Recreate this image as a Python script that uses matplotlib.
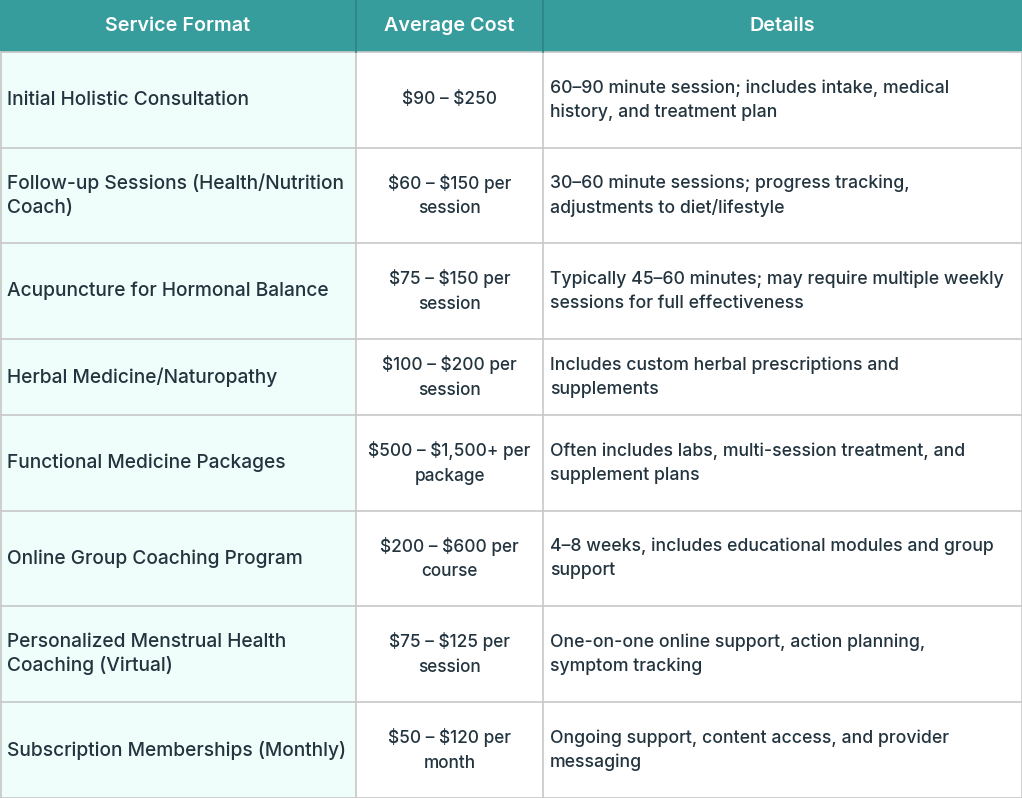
import matplotlib
matplotlib.use('Agg')
import matplotlib.pyplot as plt
from matplotlib.patches import Rectangle

plt.rcParams['font.family'] = ['Inter', 'DejaVu Sans']
plt.rcParams['text.parse_math'] = False

# Table content
headers = ["Service Format", "Average Cost", "Details"]

services = [
    "Initial Holistic Consultation",
    "Follow-up Sessions (Health/Nutrition\nCoach)",
    "Acupuncture for Hormonal Balance",
    "Herbal Medicine/Naturopathy",
    "Functional Medicine Packages",
    "Online Group Coaching Program",
    "Personalized Menstrual Health\nCoaching (Virtual)",
    "Subscription Memberships (Monthly)",
]

costs = [
    "$90 – $250",
    "$60 – $150 per\nsession",
    "$75 – $150 per\nsession",
    "$100 – $200 per\nsession",
    "$500 – $1,500+ per\npackage",
    "$200 – $600 per\ncourse",
    "$75 – $125 per\nsession",
    "$50 – $120 per\nmonth",
]

details = [
    "60–90 minute session; includes intake, medical\nhistory, and treatment plan",
    "30–60 minute sessions; progress tracking,\nadjustments to diet/lifestyle",
    "Typically 45–60 minutes; may require multiple weekly\nsessions for full effectiveness",
    "Includes custom herbal prescriptions and\nsupplements",
    "Often includes labs, multi-session treatment, and\nsupplement plans",
    "4–8 weeks, includes educational modules and group\nsupport",
    "One-on-one online support, action planning,\nsymptom tracking",
    "Ongoing support, content access, and provider\nmessaging",
]

# layout (pixels)
W, H = 1022, 798
col_x = [0, 356, 543, 1022]
header_h = 52
row_h = [96, 95, 96, 76, 96, 95, 96, 96]

header_color = "#369c9c"
first_col_bg = "#effdfb"
text_color = "#23343f"
line_color = "#c8c8c8"
col_fs = [13.8, 12.4, 12.7]
fw = 'medium'


def lsp(fs):
    # keep the line pitch at ~24 px whatever the size
    return 1.45 * 13.3 / fs


fig = plt.figure(figsize=(W / 100, H / 100), dpi=100)
ax = fig.add_axes([0, 0, 1, 1])
ax.set_xlim(0, W)
ax.set_ylim(H, 0)
ax.axis('off')

# header
ax.add_patch(Rectangle((0, 0), W, header_h, facecolor=header_color, edgecolor='none'))
for i, h in enumerate(headers):
    cx = (col_x[i] + col_x[i + 1]) / 2
    ax.text(cx, header_h / 2, h, color='white', fontsize=14.2, fontweight='semibold',
            ha='center', va='center')

# rows
y = header_h
row_tops = []
for k in range(len(services)):
    row_tops.append(y)
    rh = row_h[k]
    ax.add_patch(Rectangle((0, y), col_x[1], rh, facecolor=first_col_bg, edgecolor='none'))
    cy = y + rh / 2
    ax.text(col_x[0] + 7, cy, services[k], color=text_color, fontsize=col_fs[0],
            fontweight=fw, ha='left', va='center', linespacing=lsp(col_fs[0]))
    ax.text((col_x[1] + col_x[2]) / 2, cy, costs[k], color=text_color, fontsize=col_fs[1],
            fontweight=fw, ha='center', va='center', multialignment='center',
            linespacing=lsp(col_fs[1]))
    ax.text(col_x[2] + 7, cy, details[k], color=text_color, fontsize=col_fs[2],
            fontweight=fw, ha='left', va='center', linespacing=lsp(col_fs[2]))
    y += rh

# grid lines
for t in row_tops[1:] + [header_h]:
    ax.plot([0, W], [t, t], color=line_color, lw=1.2)
ax.plot([0, W], [H - 0.5, H - 0.5], color=line_color, lw=1.2)
for x in col_x[1:-1]:
    ax.plot([x, x], [header_h, H], color=line_color, lw=1.2)
    ax.plot([x, x], [0, header_h], color="#2e8585", lw=1.2)
ax.plot([0.5, 0.5], [header_h, H], color=line_color, lw=1.2)
ax.plot([W - 0.5, W - 0.5], [header_h, H], color=line_color, lw=1.2)

fig.savefig("out.png", dpi=100)
